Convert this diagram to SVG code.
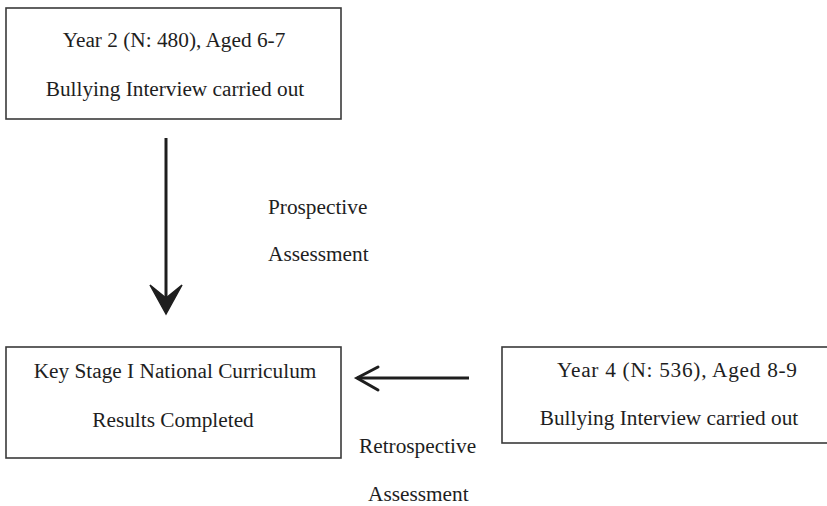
<svg xmlns="http://www.w3.org/2000/svg" width="827" height="506" viewBox="0 0 827 506">
<style>
.box{fill:#fff;stroke:#3a3a3a;stroke-width:1.6}
.t{font-family:"Liberation Serif","Times New Roman",serif;font-size:21.3px;fill:#1e1e1e}
.c{text-anchor:middle}
.ln{stroke:#1e1e1e;stroke-width:3;fill:none}
</style>
<rect width="827" height="506" fill="#fff"/>
<g id="node-year2">
<rect class="box" x="6" y="8" width="335" height="111"/>
<text class="t c" x="174" y="47">Year 2 (N: 480), Aged 6-7</text>
<text class="t c" x="175" y="96">Bullying Interview carried out</text>
</g>
<g id="node-keystage">
<rect class="box" x="6" y="347" width="335" height="111"/>
<text class="t c" x="175" y="378">Key Stage I National Curriculum</text>
<text class="t c" x="173" y="427">Results Completed</text>
</g>
<g id="node-year4">
<rect class="box" x="502" y="347" width="350" height="96"/>
<text class="t c" x="677" y="377" textLength="240" lengthAdjust="spacing">Year 4 (N: 536), Aged 8-9</text>
<text class="t c" x="669" y="425">Bullying Interview carried out</text>
</g>
<g id="connectors">
<line class="ln" x1="166" y1="138" x2="166" y2="298"/>
<path d="M166,314 L150,285 L166,298 L182,285 Z" fill="#1e1e1e" stroke="#1e1e1e" stroke-width="1.5" stroke-linejoin="miter"/>
<line class="ln" x1="357" y1="378" x2="469" y2="378"/>
<polyline class="ln" points="378,367 357,378 378,390" stroke-linecap="round"/>
</g>
<g id="labels">
<text class="t" x="268" y="214">Prospective</text>
<text class="t" x="268" y="261">Assessment</text>
<text class="t" x="359" y="453">Retrospective</text>
<text class="t" x="368" y="501">Assessment</text>
</g>
</svg>
